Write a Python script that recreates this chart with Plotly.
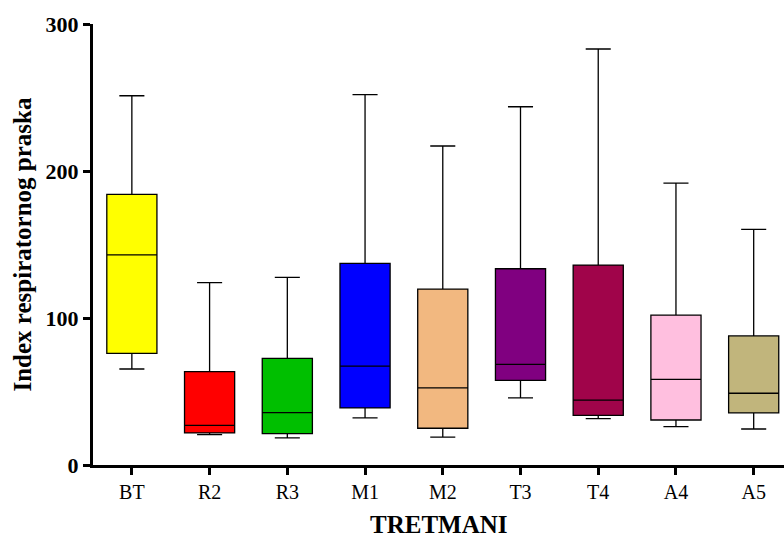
import plotly.graph_objects as go

# Treatment groups and their box statistics
treatments = ["BT", "R2", "R3", "M1", "M2", "T3", "T4", "A4", "A5"]
minimum = [65.3, 20.6, 18.4, 32.0, 19.0, 45.6, 31.5, 26.1, 24.5]
q1 = [76.0, 21.8, 21.3, 38.8, 25.0, 57.6, 33.8, 30.6, 35.4]
median = [142.9, 27.0, 35.6, 67.3, 52.4, 68.5, 44.2, 58.3, 48.8]
q3 = [184.1, 63.5, 72.6, 137.2, 119.7, 133.5, 136.0, 102.0, 87.8]
maximum = [251.2, 124.0, 127.7, 251.9, 217.0, 243.7, 283.0, 191.8, 160.3]
colors = ["#FFFF00", "#FF0000", "#00BF00", "#0000FF", "#F2B880",
          "#800080", "#A0044A", "#FFBFDF", "#C1B57C"]

fig = go.Figure()
for i, name in enumerate(treatments):
    fig.add_trace(go.Box(
        x=[name],
        q1=[q1[i]], median=[median[i]], q3=[q3[i]],
        lowerfence=[minimum[i]], upperfence=[maximum[i]],
        fillcolor=colors[i],
        line=dict(color="black", width=1.3),
        whiskerwidth=0.5,
        width=0.645,
        boxpoints=False,
        showlegend=False,
        hoverinfo="skip",
    ))

fig.update_layout(
    width=784, height=538,
    margin=dict(l=93, r=0, t=24, b=73),
    paper_bgcolor="white", plot_bgcolor="white",
    font=dict(family="Liberation Serif", color="black"),
    xaxis=dict(
        type="category",
        categoryorder="array", categoryarray=treatments,
        range=[-0.5, 8.39],
        showline=True, linecolor="black", linewidth=3,
        ticks="outside", ticklen=7, tickwidth=3, tickcolor="black",
        tickfont=dict(family="Liberation Serif", size=20, color="black"),
        showgrid=False, zeroline=False,
    ),
    yaxis=dict(
        range=[0, 300],
        tickvals=[0, 100, 200, 300],
        showline=True, linecolor="black", linewidth=3,
        ticks="outside", ticklen=7, tickwidth=3, tickcolor="black",
        tickfont=dict(family="Liberation Serif", size=22, color="black", weight="bold"),
        showgrid=False, zeroline=False,
    ),
    annotations=[
        dict(text="<b>TRETMANI</b>", xref="paper", yref="paper",
             x=0.5, y=-0.136, xanchor="center", yanchor="middle",
             showarrow=False, font=dict(family="Liberation Serif", size=25, color="black")),
        dict(text="<b>Index respiratornog praska</b>", xref="paper", yref="paper",
             x=-0.1027, y=0.5, xanchor="center", yanchor="middle", textangle=-90,
             showarrow=False, font=dict(family="Liberation Serif", size=25, color="black")),
    ],
)

fig.write_html("out.html")
